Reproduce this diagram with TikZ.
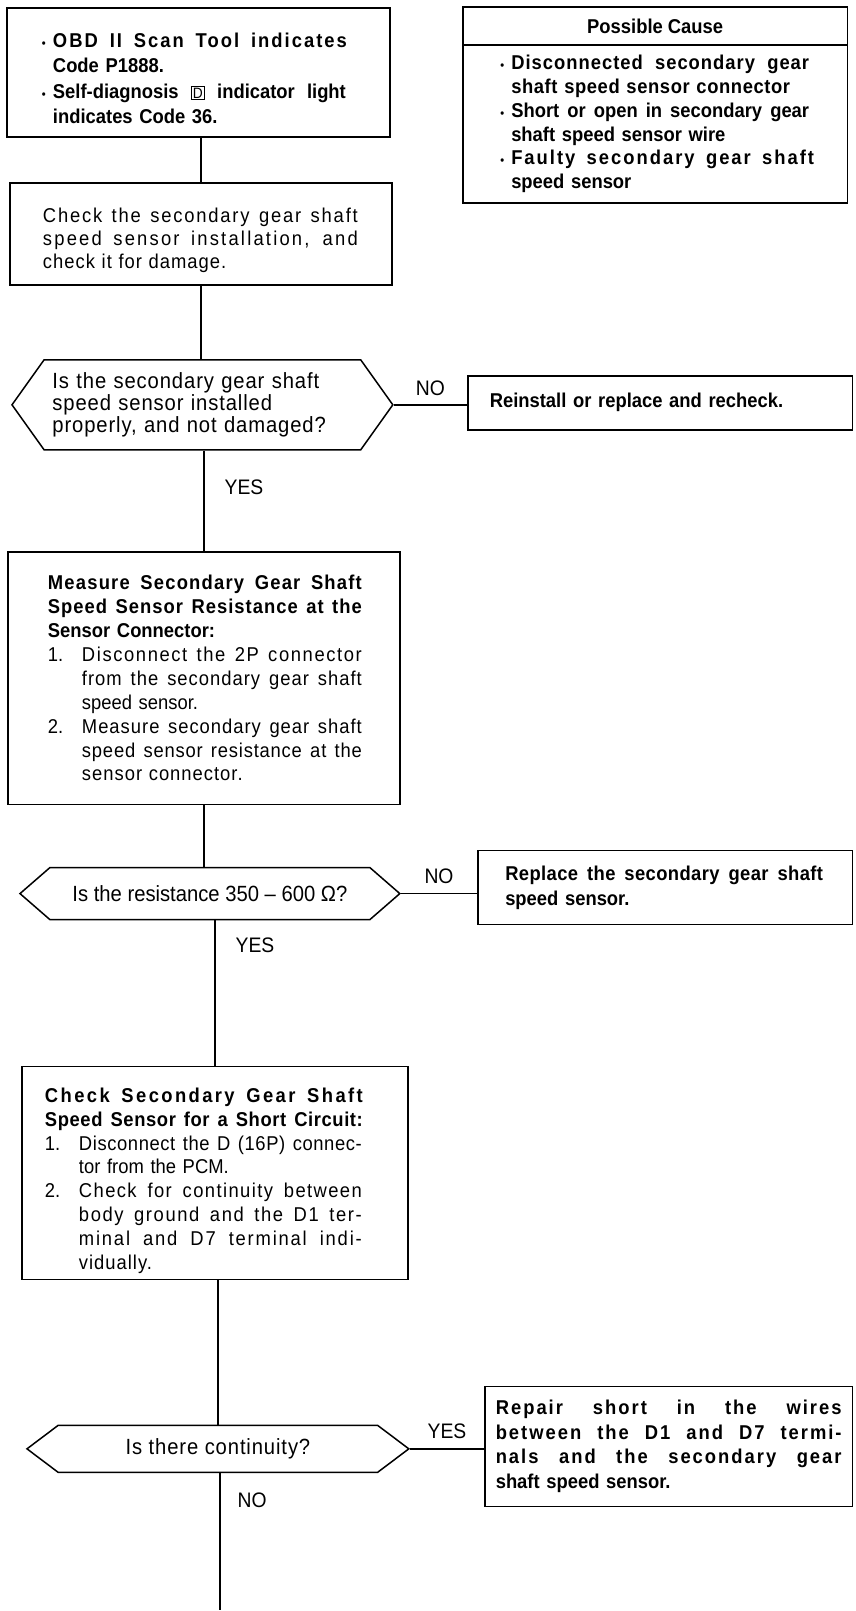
\documentclass[tikz,border=0pt]{standalone}
\usepackage{fontspec}
\setmainfont{Liberation Sans}[FakeStretch=0.92]
\usetikzlibrary{positioning, shapes.symbols}

\newcommand{\bodyfont}{\fontsize{20}{23.5}\selectfont}
\newcommand{\askfont}{\fontsize{22}{22}\selectfont}
\newcommand{\jl}[3]{\leavevmode\hbox to #1{\addfontfeature{LetterSpace=#2}\spaceskip=0.25em plus 1fil\relax\xspaceskip=\spaceskip#3}}
\newcommand{\ls}[2]{{\addfontfeature{LetterSpace=#1}#2}}
\newcommand{\bul}{\makebox[11pt][l]{\fontsize{12}{12}\selectfont\textbullet}}
\newcommand{\stepno}[1]{\makebox[34pt][l]{#1}}
\newcommand{\lift}[1]{\rule{0pt}{#1}}
\newcommand{\dkey}{{\setlength{\fboxsep}{1.2pt}\setlength{\fboxrule}{0.9pt}\fbox{\fontsize{15}{15}\selectfont\mdseries D}}}

\tikzset{
  box/.style={draw, line width=1.5pt, rectangle, inner sep=0pt, align=left, font=\bodyfont},
  boldbox/.style={box, font=\bodyfont\bfseries},
  ask/.style={draw, line width=1.5pt, signal, signal to=west and east, inner sep=0pt, align=left, font=\askfont},
  tag/.style={font=\fontsize{21}{21}\selectfont, inner sep=0pt},
  link/.style={line width=1.5pt}
}

\begin{document}
\begin{tikzpicture}[x=1pt, y=-1pt]
  \path[fill=white] (0,0) rectangle (856,1611);

  % top row
  \node[boldbox, minimum width=383pt, minimum height=129pt, text width=313pt,
        font=\fontsize{20}{25.5}\selectfont\bfseries] (code) at (198.5,72.5)
    {\lift{26pt}\bul\jl{294pt}{10}{OBD II Scan Tool indicates}\\
     \hspace*{11pt}Code P1888.\\
     \bul\jl{293pt}{0}{Self-diagnosis \dkey{} indicator light}\\
     \hspace*{11pt}indicates Code 36.};
  \node[boldbox, minimum width=385pt, minimum height=38pt, align=center] (causehead) at (655.5,26)
    {Possible Cause};
  \node[boldbox, minimum width=385pt, minimum height=158pt, text width=310pt,
        font=\fontsize{20}{23.8}\selectfont\bfseries] (cause) at (655.5,124)
    {\bul\jl{298pt}{5}{Disconnected secondary gear}\\
     \hspace*{11pt}\ls{3}{shaft speed sensor connector}\\
     \bul\jl{298pt}{0}{Short or open in secondary gear}\\
     \hspace*{11pt}shaft speed sensor wire\\
     \bul\jl{303pt}{10}{Faulty secondary gear shaft}\\
     \hspace*{11pt}speed sensor};

  \node[box, minimum width=382pt, minimum height=102pt, text width=316pt,
        font=\fontsize{20}{23}\selectfont] (inspect) at (201,234)
    {\lift{28pt}\jl{315pt}{9}{Check the secondary gear shaft}\\
     \jl{315pt}{11}{speed sensor installation, and}\\
     \ls{5}{check it for damage.}};

  % first question
  \node[ask, minimum width=381pt, minimum height=90pt, signal pointer angle=109, text width=300pt,
        font=\askfont\addfontfeature{LetterSpace=4}] (askmount) at (202.5,405)
    {Is the secondary gear shaft\\ speed sensor installed\\ properly, and not damaged?};
  \node[boldbox, minimum width=385pt, minimum height=54pt, text width=341pt] (remount) at (660.5,403)
    {Reinstall or replace and recheck.};

  \node[box, minimum width=392pt, minimum height=253pt, text width=312pt,
        font=\fontsize{20}{23.9}\selectfont] (measure) at (204,678.5)
    {\textbf{\jl{314pt}{6}{Measure Secondary Gear Shaft}}\\
     \textbf{\jl{314pt}{5}{Speed Sensor Resistance at the}}\\
     \textbf{Sensor Connector:}\\
     \stepno{1.}\jl{280pt}{8}{Disconnect the 2P connector}\\
     \hspace*{34pt}\jl{280pt}{5}{from the secondary gear shaft}\\
     \hspace*{34pt}speed sensor.\\
     \stepno{2.}\jl{280pt}{5}{Measure secondary gear shaft}\\
     \hspace*{34pt}\jl{280pt}{4}{speed sensor resistance at the}\\
     \hspace*{34pt}\ls{5}{sensor connector.}};

  % second question
  \node[ask, minimum width=380pt, minimum height=52pt, signal pointer angle=82] (askohm) at (210,894)
    {Is the resistance 350 -- 600 Ω?};
  \node[boldbox, minimum width=375pt, minimum height=74pt, text width=320pt,
        font=\fontsize{20}{25}\selectfont\bfseries] (swap) at (665.5,888)
    {\jl{318pt}{2}{Replace the secondary gear shaft}\\ speed sensor.};

  \node[box, minimum width=386pt, minimum height=213pt, text width=340pt,
        font=\fontsize{20}{23.8}\selectfont] (shortchk) at (215,1173.5)
    {\lift{30pt}\textbf{\jl{318pt}{12}{Check Secondary Gear Shaft}}\\
     \textbf{\jl{318pt}{3}{Speed Sensor for a Short Circuit:}}\\
     \stepno{1.}\jl{283pt}{3}{Disconnect the D (16P) connec-}\\
     \hspace*{34pt}tor from the PCM.\\
     \stepno{2.}\jl{283pt}{7}{Check for continuity between}\\
     \hspace*{34pt}\jl{283pt}{8}{body ground and the D1 ter-}\\
     \hspace*{34pt}\jl{283pt}{9}{minal and D7 terminal indi-}\\
     \hspace*{34pt}\ls{5}{vidually.}};

  % third question
  \node[ask, minimum width=382pt, minimum height=47pt, signal pointer angle=74,
        font=\askfont\addfontfeature{LetterSpace=4}] (askcont) at (218,1449.5)
    {Is there continuity?};
  \node[boldbox, minimum width=368pt, minimum height=120pt, text width=346pt,
        font=\fontsize{20}{24.5}\selectfont\bfseries] (repair) at (669,1447)
    {\jl{346pt}{10}{Repair short in the wires}\\
     \jl{346pt}{10}{between the D1 and D7 termi-}\\
     \jl{346pt}{10}{nals and the secondary gear}\\
     shaft speed sensor.};
  \coordinate (tail) at (220,1611);

  % connectors
  \draw[link] (code.south -| inspect.north) -- (inspect.north);
  \draw[link] (inspect.south) -- (inspect.south |- askmount.north);
  \draw[link] (askmount.east) -- node[tag, above=8pt] {NO} (askmount.east -| remount.west);
  \draw[link] (askmount.south -| measure.north) -- node[tag, pos=0.37, right=20pt] {YES} (measure.north);
  \draw[link] (measure.south) -- (measure.south |- askohm.north);
  \draw[link] (askohm.east) -- node[tag, above=9pt] {NO} (askohm.east -| swap.west);
  \draw[link] (askohm.south -| shortchk.north) -- node[tag, pos=0.17, right=20pt] {YES} (shortchk.north);
  \draw[link] (shortchk.south -| askcont.north) -- (askcont.north);
  \draw[link] (askcont.east) -- node[tag, above=9pt] {YES} (askcont.east -| repair.west);
  \draw[link] (askcont.south -| tail) -- node[tag, pos=0.2, right=17pt] {NO} (tail);
\end{tikzpicture}
\end{document}
